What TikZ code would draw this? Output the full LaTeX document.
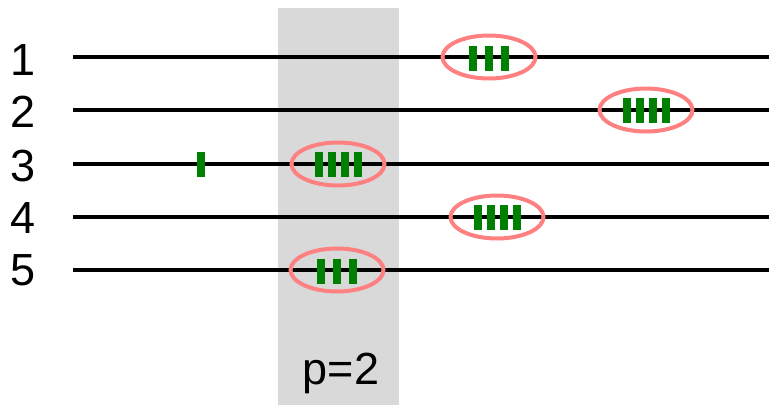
\documentclass[tikz,border=0pt]{standalone}
\usepackage{fontspec}
\setmainfont{Liberation Sans}
\definecolor{greyfill}{HTML}{D9D9D9}
\definecolor{ring}{HTML}{FF8080}
\definecolor{barg}{HTML}{008000}
\tikzset{
  rowline/.style={line width=3.4pt,black},
  ringe/.style={draw=ring,line width=4pt,ellipse,minimum width=93pt,minimum height=43pt,inner sep=0pt},
  tally/.style={fill=barg,draw=none,minimum width=8pt,minimum height=25pt,inner sep=0pt},
  lab/.style={font=\fontsize{45}{45}\selectfont,inner sep=0pt}
}
\usetikzlibrary{shapes.geometric}
\begin{document}
\begin{tikzpicture}[x=1pt,y=-1pt]
\useasboundingbox (0,0) rectangle (769,405);
\fill[greyfill] (278,8) rectangle (399,405);
\foreach \i/\y/\ty in {1/57/60,2/110/112,3/164/166,4/217/218,5/270/270}{
  \node[lab] (n\i) at (23,\ty) {\i};
  \coordinate (s\i) at (73,\y);
  \coordinate (e\i) at (769,\y);
  \draw[rowline] (s\i) -- (e\i);
}
\node[anchor=base,font=\fontsize{45}{45}\selectfont,inner sep=0pt] (p) at (341,384) {p=2};
% ellipses
\node[ringe] (r1) at (489,57) {};
\node[ringe] (r2) at (646,110) {};
\node[ringe] (r3) at (338,164) {};
\node[ringe] (r4) at (497,217) {};
\node[ringe] (r5) at (337,270) {};
% tallies
\foreach \dx [count=\k] in {-16,0,16}{
  \node[tally] (a\k) at (489+\dx,58) {};
  \node[tally] (b\k) at (337+\dx,271) {};
}
\foreach \dx [count=\k] in {-19.5,-6.5,6.5,19.5}{
  \node[tally] (c\k) at (646+\dx,110) {};
  \node[tally] (d\k) at (338+\dx,164) {};
  \node[tally] (f\k) at (497+\dx,217) {};
}
\node[tally] (g) at (201,164) {};
\end{tikzpicture}
\end{document}
